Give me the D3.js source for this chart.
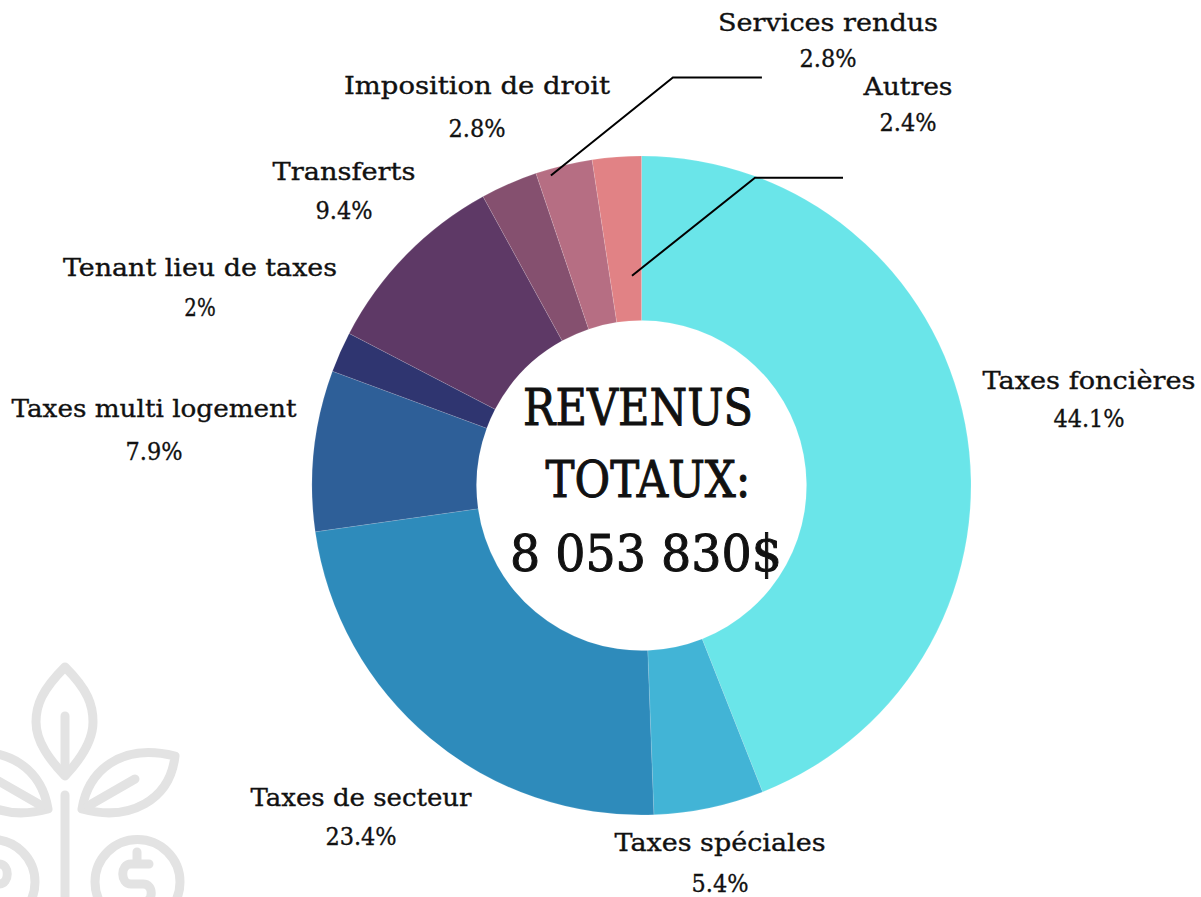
<!DOCTYPE html>
<html>
<head>
<meta charset="utf-8">
<script src="https://cdn.jsdelivr.net/npm/d3@7"></script>
<style>
    html, body { margin: 0; padding: 0; background: #fff; overflow: hidden; }
    text { font-family: "DejaVu Serif", serif; fill: #111; stroke: #111; stroke-width: 0.35px; }
</style>
</head>
<body>
<div id="chart"></div>
<script>
// chart values, clockwise from 12 o'clock
const categories = ["Taxes foncières", "Taxes spéciales", "Taxes de secteur", "Taxes multi logement",
    "Tenant lieu de taxes", "Transferts", "Imposition de droit", "Services rendus", "Autres"];
const shares = [44.1, 5.4, 23.4, 7.9, 2, 9.4, 2.8, 2.8, 2.4];
const colors = ["#6AE5E9", "#42B4D6", "#2E8BBB", "#2E5F98", "#2F3570", "#5E3966", "#85506F", "#B66E83", "#E18285"];
const centerLines = ["REVENUS", "TOTAUX:", "8 053 830$"];

// label placement: [center x, name baseline, value baseline, name width]
const labelPos = [[1089, 389, 427, 213], [720, 851, 892, 211], [361, 806, 845, 221], [154, 417, 460, 285],
    [200, 276, 316, 274], [344, 180, 219, 143], [477, 94, 137, 266], [828, 31, 67, 220], [908, 95, 131, 89]];
const valueW = 57;

const width = 1201, height = 897;
const cx = 641.5, cy = 485.5, outerR = 329.5, innerR = 165;

const svg = d3.select("#chart").append("svg")
    .attr("width", width)
    .attr("height", height);

// watermark logo bottom left
const logo = svg.append("g")
    .attr("fill", "none")
    .attr("stroke", "#E3E3E3")
    .attr("stroke-width", 9)
    .attr("stroke-linecap", "round")
    .attr("stroke-linejoin", "round");

logo.append("path").attr("d", "M65 667C42 690 36 705 36 722C36 742 50 760 65 776C80 760 93 742 93 722C93 705 88 690 65 667Z");
logo.append("path").attr("d", "M65 716V772");
logo.append("path").attr("d", "M65 795V905");

[0, 1].forEach(function(mirror) {
    const side = logo.append("g")
        .attr("transform", mirror ? "translate(130,0) scale(-1,1)" : null);
    side.append("path").attr("d", "M82 809C88 772 120 742 175 756C170 800 130 822 82 809Z");
    side.append("path").attr("d", "M88 806L135 779");
    side.append("circle").attr("cx", 137.5).attr("cy", 882).attr("r", 42.5);
    side.append("path").attr("d", "M137 852V862M149 864H131C120 864 120 884 131 884H143C154 884 154 902 143 902H125");
});

// donut
const pie = d3.pie().sort(null).value(d => d);
const arc = d3.arc().innerRadius(innerR).outerRadius(outerR);
const slices = pie(shares);

const donut = svg.append("g")
    .attr("transform", "translate(" + cx + "," + cy + ")");

donut.selectAll("path")
    .data(slices)
    .enter()
    .append("path")
    .attr("d", arc)
    .attr("fill", (d, i) => colors[i])
    .attr("stroke", "#fff")
    .attr("stroke-opacity", 0.25)
    .attr("stroke-width", 0.5);

// leader lines for the two small slices: radius on the slice, then elbow and tail offsets
const leaders = [
    {slice: 7, r: 323, turn: -0.046, dx: 122, dy: -98, tail: 89},
    {slice: 8, r: 210, turn: 0.03, dx: 123, dy: -98, tail: 88}
];

leaders.forEach(function(l) {
    const s = slices[l.slice];
    const p = d3.pointRadial((s.startAngle + s.endAngle) / 2 + l.turn, l.r);
    const elbow = [p[0] + l.dx, p[1] + l.dy];
    donut.append("path")
        .attr("d", d3.line()([p, elbow, [elbow[0] + l.tail, elbow[1]]]))
        .attr("fill", "none")
        .attr("stroke", "#000")
        .attr("stroke-width", 2);
});

// slice labels
categories.forEach(function(name, i) {
    const pos = labelPos[i];
    svg.append("text")
        .attr("x", pos[0]).attr("y", pos[1])
        .attr("text-anchor", "middle")
        .attr("font-size", 24)
        .attr("textLength", pos[3])
        .attr("lengthAdjust", "spacingAndGlyphs")
        .text(name);
    svg.append("text")
        .attr("x", pos[0]).attr("y", pos[2])
        .attr("text-anchor", "middle")
        .attr("font-size", 24)
        .attr("textLength", shares[i] === 2 ? valueW * 0.55 : valueW * (String(shares[i]).length + 1) / 4)
        .attr("lengthAdjust", "spacingAndGlyphs")
        .text(shares[i] + "%");
});

// center title
const centerY = [425, 497, 571];
const centerW = [230, 205, 272];
const centerX = [638, 648, 646];

centerLines.forEach(function(line, i) {
    svg.append("text")
        .attr("x", centerX[i]).attr("y", centerY[i])
        .attr("text-anchor", "middle")
        .attr("font-size", 50)
        .attr("textLength", centerW[i])
        .attr("lengthAdjust", "spacingAndGlyphs")
        .style("stroke-width", "1px")
        .text(line);
});
</script>
</body>
</html>
